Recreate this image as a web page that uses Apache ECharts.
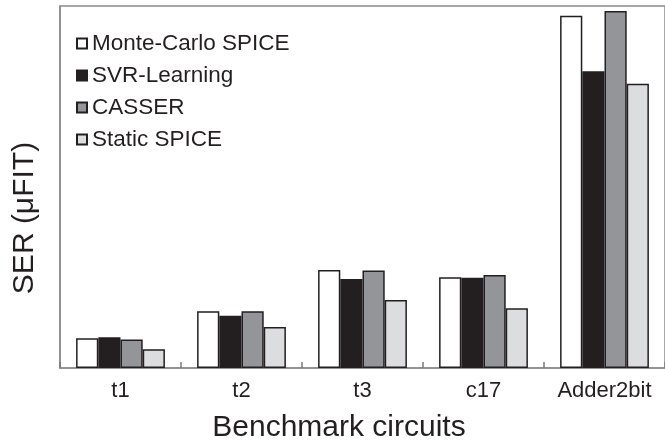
<!DOCTYPE html>
<html>
<head>
<meta charset="utf-8">
<script src="https://cdn.jsdelivr.net/npm/echarts@6/dist/echarts.min.js"></script>
<style>
  html, body { margin: 0; padding: 0; background: #fff; }
  #chart { width: 665px; height: 445px; }
</style>
</head>
<body>
<div id="chart"></div>
<script>
// Benchmark circuits on the x axis
const categories = ['t1', 't2', 't3', 'c17', 'Adder2bit'];

// Soft error rate per method (relative units, axis top = 100)
const monteCarloSpice = [8.2, 15.7, 27.1, 25.1, 97.3];
const svrLearning     = [8.5, 14.4, 24.6, 24.9, 82.0];
const casser          = [7.9, 15.7, 26.9, 25.7, 98.6];
const staticSpice     = [5.2, 11.3, 18.8, 16.5, 78.5];

const seriesNames = ['Monte-Carlo SPICE', 'SVR-Learning', 'CASSER', 'Static SPICE'];
const seriesData = [monteCarloSpice, svrLearning, casser, staticSpice];
const fills = ['#ffffff', '#231f20', '#939598', '#dcddde'];

const FONT = '"Liberation Sans", Arial, Helvetica, sans-serif';
const AXIS_GRAY = '#8c8c8c';

const chart = echarts.init(document.getElementById('chart'), null, { renderer: 'canvas' });

chart.setOption({
  animation: false,
  backgroundColor: '#ffffff',
  grid: {
    left: 60, right: -6, top: 6, bottom: 77,
    show: true, borderColor: AXIS_GRAY, borderWidth: 1.5, backgroundColor: 'transparent'
  },
  legend: {
    orient: 'vertical',
    left: 76, top: 32,
    padding: 0,
    itemWidth: 10, itemHeight: 10, itemGap: 9,
    icon: 'rect',
    textStyle: { fontFamily: FONT, fontSize: 22.5, color: '#231f20', lineHeight: 21.5 },
    data: seriesNames
  },
  xAxis: {
    type: 'category',
    data: categories,
    boundaryGap: true,
    axisLine: { show: true, lineStyle: { color: AXIS_GRAY, width: 1.5 } },
    axisTick: { show: true, interval: 0, inside: true, length: 6, lineStyle: { color: '#7a7a7a', width: 1.5 } },
    axisLabel: { interval: 0, fontFamily: FONT, fontSize: 22, color: '#231f20', margin: 12 }
  },
  yAxis: {
    type: 'value',
    min: 0, max: 100,
    axisLine: { show: true, lineStyle: { color: AXIS_GRAY, width: 1.5 } },
    axisTick: { show: false },
    axisLabel: { show: false },
    splitLine: { show: false }
  },
  series: seriesNames.map((name, i) => ({
    name,
    type: 'bar',
    data: seriesData[i],
    barGap: '0%',
    barCategoryGap: '26.6%',
    itemStyle: { color: fills[i], borderColor: '#231f20', borderWidth: 1.5 }
  })),
  graphic: [
    {
      type: 'text',
      x: 25, y: 218,
      rotation: Math.PI / 2,
      style: {
        text: 'SER (μFIT)',
        font: '30px ' + FONT,
        fill: '#231f20',
        textAlign: 'center',
        textVerticalAlign: 'middle'
      }
    },
    {
      type: 'text',
      x: 339, y: 428,
      style: {
        text: 'Benchmark circuits',
        font: '30px ' + FONT,
        fill: '#231f20',
        textAlign: 'center',
        textVerticalAlign: 'middle'
      }
    }
  ]
});
</script>
</body>
</html>
